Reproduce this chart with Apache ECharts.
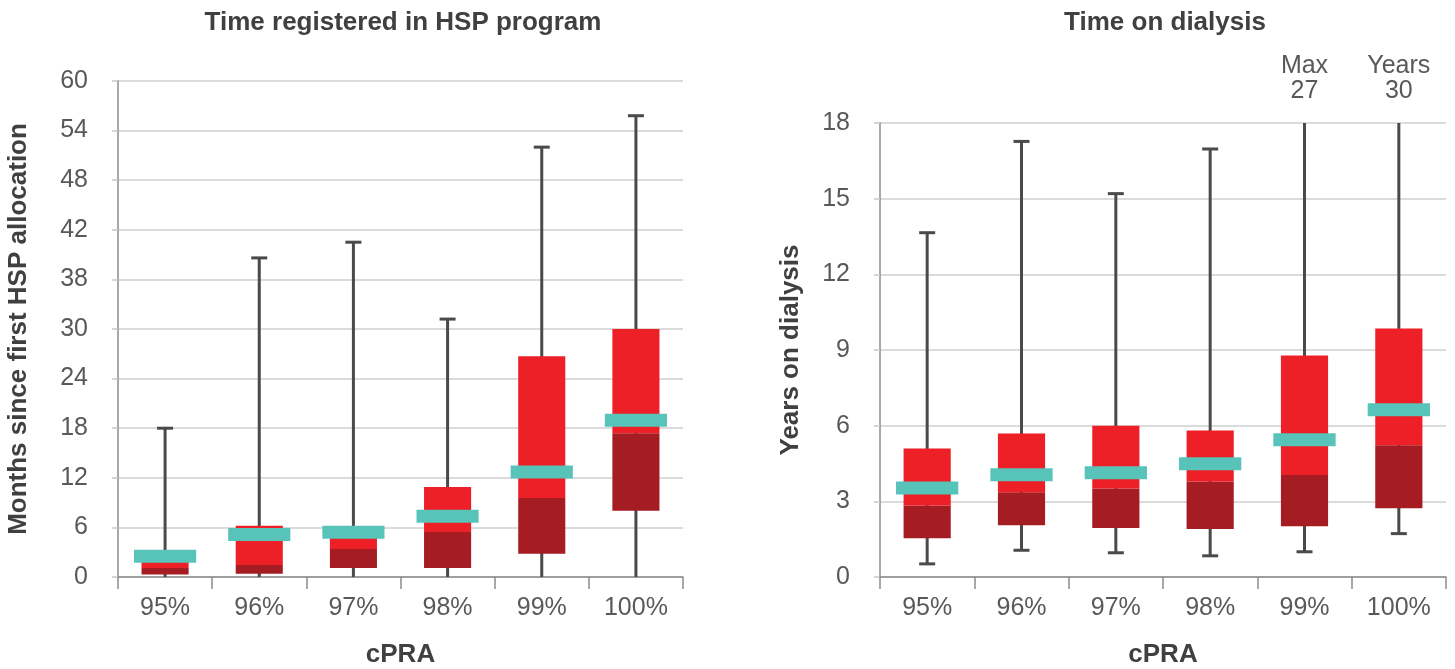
<!DOCTYPE html>
<html>
<head>
<meta charset="utf-8">
<script src="https://cdn.jsdelivr.net/npm/echarts@6/dist/echarts.min.js"></script>
<style>
  html, body { margin: 0; padding: 0; background: #fff; }
  #chart { width: 1455px; height: 669px; }
</style>
</head>
<body>
<div id="chart"></div>
<script>
// cPRA groups shared by both panels
const categories = ['95%', '96%', '97%', '98%', '99%', '100%'];

// Time registered in HSP program (months since first HSP allocation)
const hspMin    = [0, 0, 0, 0, 0, 0];
const hspQ1     = [0.3, 0.4, 1.1, 1.1, 2.8, 8.0];
const hspMedian = [1.1, 1.45, 3.4, 5.45, 9.55, 17.4];
const hspQ3     = [2.0, 6.2, 5.6, 10.9, 26.7, 30.0];
const hspMax    = [18, 38.6, 40.5, 31.2, 52.0, 55.8];
const hspMean   = [2.5, 5.15, 5.4, 7.35, 12.7, 18.95];
const hspTickLabels = ['0', '6', '12', '18', '24', '30', '38', '42', '48', '54', '60'];

// Time on dialysis (years)
const dialMin    = [0.52, 1.06, 0.96, 0.84, 1.0, 1.72];
const dialQ1     = [1.54, 2.05, 1.94, 1.9, 2.01, 2.73];
const dialMedian = [2.83, 3.36, 3.51, 3.79, 4.04, 5.22];
const dialQ3     = [5.09, 5.69, 6.0, 5.81, 8.78, 9.85];
const dialMax    = [13.65, 17.27, 15.2, 16.97, 27, 30];
const dialMean   = [3.53, 4.05, 4.13, 4.49, 5.44, 6.63];
const dialMaxNote = ['', '', '', '', 'Max', 'Years'];
const dialTickLabels = ['0', '3', '6', '9', '12', '15', '18'];

const FONT = '"Liberation Sans", Arial, sans-serif';
const TEXT = '#595959';
const TITLE = '#404040';
const RED = '#ED1F27';
const DARK_RED = '#A51C22';
const TEAL = '#57C3B9';
const WHISKER = '#4a4a4a';
const LABEL_SIZE = 25;
const BOLD_SIZE = 26;

function rows(mins, q1s, meds, q3s, maxs, means, notes) {
  return categories.map((c, i) => [i, mins[i], q1s[i], meds[i], q3s[i], maxs[i], means[i], notes ? notes[i] : '']);
}

// Box with whiskers: dark segment Q1..median, bright segment median..Q3, teal bar at the mean
function renderBox(params, api) {
  const i = api.value(0);
  const cs = params.coordSys;
  const top = cs.y, bottom = cs.y + cs.height;
  const band = api.size([1, 0])[0];
  const x = api.coord([i, 0])[0];
  const py = v => api.coord([i, v])[1];
  const yMinRaw = py(api.value(1));
  const yMaxRaw = py(api.value(5));
  const yMin = Math.min(yMinRaw, bottom);
  const yMax = Math.max(yMaxRaw, top);
  const yQ1 = py(api.value(2));
  const yMed = py(api.value(3));
  const yQ3 = py(api.value(4));
  const yMean = py(api.value(6));
  const boxW = band * 0.5;
  const meanW = band * 0.66;
  const lineW = 3;
  const capW = 16;
  const children = [];

  children.push({ type: 'rect', shape: { x: x - lineW / 2, y: yMax, width: lineW, height: yMin - yMax }, style: { fill: WHISKER } });
  if (yMaxRaw >= top) {
    children.push({ type: 'rect', shape: { x: x - capW / 2, y: yMax - 1.5, width: capW, height: 3 }, style: { fill: WHISKER } });
  }
  if (yMinRaw < bottom - 0.5) {
    children.push({ type: 'rect', shape: { x: x - capW / 2, y: yMin - 1.5, width: capW, height: 3 }, style: { fill: WHISKER } });
  }
  children.push({ type: 'rect', shape: { x: x - boxW / 2, y: yMed, width: boxW, height: yQ1 - yMed }, style: { fill: DARK_RED } });
  children.push({ type: 'rect', shape: { x: x - boxW / 2, y: yQ3, width: boxW, height: yMed - yQ3 }, style: { fill: RED } });
  children.push({ type: 'rect', shape: { x: x - meanW / 2, y: yMean - 6.5, width: meanW, height: 13 }, style: { fill: TEAL } });

  // whiskers running past the axis top get their value written above the plot
  const note = api.value(7);
  if (note && yMaxRaw < top) {
    children.push({
      type: 'text',
      style: {
        x: x, y: top - 19,
        text: note + '\n' + api.value(5),
        align: 'center', verticalAlign: 'bottom',
        fontFamily: FONT, fontSize: LABEL_SIZE, lineHeight: 25, fill: TEXT
      }
    });
  }
  return { type: 'group', children: children };
}

function xAxisFor(gridIndex) {
  return {
    type: 'category', gridIndex: gridIndex, data: categories,
    name: 'cPRA', nameLocation: 'middle', nameGap: 65,
    nameTextStyle: { fontFamily: FONT, fontSize: BOLD_SIZE, fontWeight: 'bold', color: TITLE },
    axisLine: { lineStyle: { color: '#8c8c8c', width: 1.5 } },
    axisTick: { show: true, length: 12, lineStyle: { color: '#8c8c8c', width: 1.5 } },
    axisLabel: { fontFamily: FONT, fontSize: LABEL_SIZE, color: TEXT, margin: 19 },
    splitLine: { show: false }
  };
}

function yAxisFor(gridIndex, max, interval, labels, name, nameGap) {
  return {
    type: 'value', gridIndex: gridIndex, min: 0, max: max, interval: interval,
    name: name, nameLocation: 'middle', nameGap: nameGap, nameRotate: 90,
    nameTextStyle: { fontFamily: FONT, fontSize: BOLD_SIZE, fontWeight: 'bold', color: TITLE },
    axisLine: { show: true, lineStyle: { color: '#8c8c8c', width: 1.5 } },
    axisTick: { show: true, length: 6, lineStyle: { color: '#c8c8c8', width: 1.5 } },
    axisLabel: {
      fontFamily: FONT, fontSize: LABEL_SIZE, color: TEXT, margin: 30,
      formatter: v => labels[Math.round(v / interval)]
    },
    splitLine: { show: true, lineStyle: { color: '#cfcfcf', width: 1.5 } }
  };
}

const chart = echarts.init(document.getElementById('chart'), null, { renderer: 'canvas' });
chart.setOption({
  animation: false,
  backgroundColor: '#fff',
  title: [
    { text: 'Time registered in HSP program', left: 398, top: 5, textAlign: 'center',
      textStyle: { fontFamily: FONT, fontSize: BOLD_SIZE, fontWeight: 'bold', color: TITLE } },
    { text: 'Time on dialysis', left: 1160, top: 5, textAlign: 'center',
      textStyle: { fontFamily: FONT, fontSize: BOLD_SIZE, fontWeight: 'bold', color: TITLE } }
  ],
  grid: [
    { left: 118, right: 772, top: 81, bottom: 92, outerBoundsMode: 'none' },
    { left: 880, right: 9, top: 123, bottom: 92, outerBoundsMode: 'none' }
  ],
  xAxis: [xAxisFor(0), xAxisFor(1)],
  yAxis: [
    yAxisFor(0, 60, 6, hspTickLabels, 'Months since first HSP allocation', 86),
    yAxisFor(1, 18, 3, dialTickLabels, 'Years on dialysis', 76)
  ],
  series: [
    { type: 'custom', xAxisIndex: 0, yAxisIndex: 0, clip: false, renderItem: renderBox,
      encode: { x: 0, y: [1, 2, 3, 4, 5, 6] },
      data: rows(hspMin, hspQ1, hspMedian, hspQ3, hspMax, hspMean) },
    { type: 'custom', xAxisIndex: 1, yAxisIndex: 1, clip: false, renderItem: renderBox,
      encode: { x: 0, y: [1, 2, 3, 4, 5, 6] },
      data: rows(dialMin, dialQ1, dialMedian, dialQ3, dialMax, dialMean, dialMaxNote) }
  ]
});
</script>
</body>
</html>
